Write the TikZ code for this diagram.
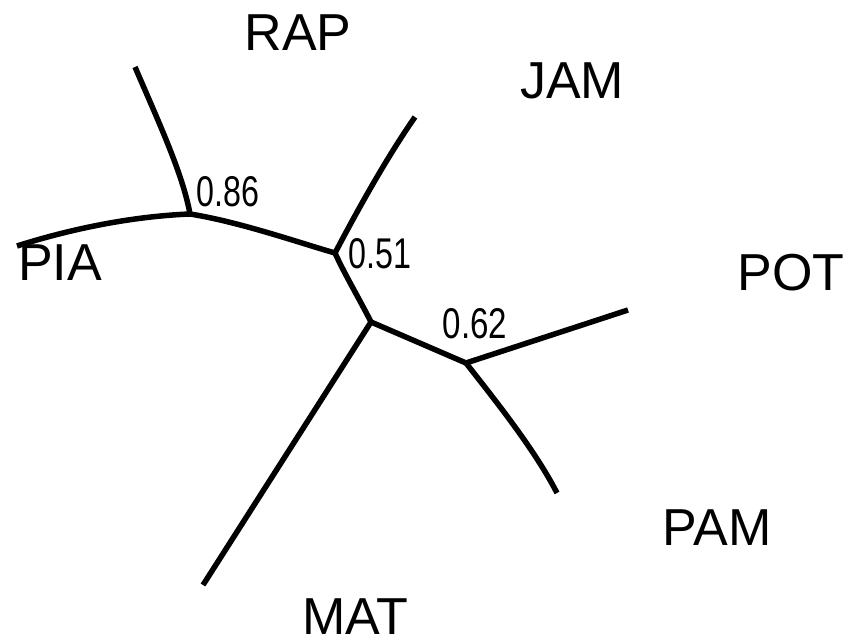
\documentclass[tikz,border=0pt]{standalone}
\usepackage{fontspec}
\setmainfont{Liberation Sans}
\begin{document}
\begin{tikzpicture}[x=1pt,y=-1pt,
  branch/.style={line width=5.5pt,line join=round,line cap=butt},
  leaf/.style={inner sep=0pt,anchor=center,font=\fontsize{52}{60}\selectfont},
  support/.style={inner sep=0pt,anchor=center,font=\fontsize{43}{48}\selectfont}]
\useasboundingbox (0,0) rectangle (848,644);
% internal vertices
\coordinate (n86) at (190,214);
\coordinate (n51) at (335,253);
\coordinate (nc) at (371,322);
\coordinate (n62) at (466,363);
% leaf tips
\coordinate (rap) at (135,67);
\coordinate (pia) at (17,246);
\coordinate (jam) at (415,117);
\coordinate (mat) at (203,585);
\coordinate (pot) at (628,310);
\coordinate (pam) at (557,493);
% branches
\draw[branch] (pia) .. controls (80,226) and (140,216) .. (n86);
\draw[branch] (rap) .. controls (160,125) and (183,175) .. (n86);
\draw[branch] (n86) .. controls (240,222) and (300,243) .. (n51);
\draw[branch] (n51) .. controls (355,215) and (385,160) .. (jam);
\draw[branch] (n51) .. controls (345,275) and (360,300) .. (nc);
\draw[branch] (nc) -- (mat);
\draw[branch] (nc) -- (n62);
\draw[branch] (n62) -- (pot);
\draw[branch] (n62) .. controls (495,400) and (535,450) .. (pam);
% leaf labels
\node[leaf] (lRAP) at (298,33) {RAP};
\node[leaf] (lJAM) at (572,81) {JAM};
\node[leaf] (lPIA) at (60,263) {PIA};
\node[leaf] (lPOT) at (791,273) {POT};
\node[leaf] (lPAM) at (717,528) {PAM};
\node[leaf] (lMAT) at (355,617) {MAT};
% support values
\node[support] (s86) at (228,192) {\scalebox{0.75}[1]{0.86}};
\node[support] (s51) at (380,254) {\scalebox{0.75}[1]{0.51}};
\node[support] (s62) at (475,324) {\scalebox{0.77}[1]{0.62}};
\end{tikzpicture}
\end{document}
